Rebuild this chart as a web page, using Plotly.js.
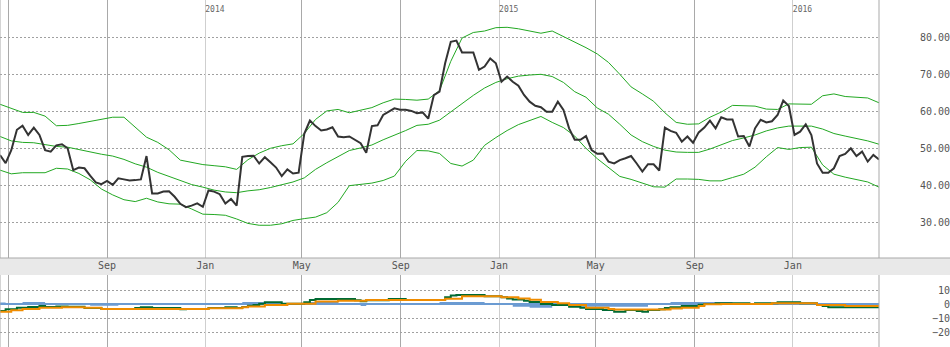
<!DOCTYPE html>
<html><head><meta charset="utf-8">
<script src="https://cdn.plot.ly/plotly-3.0.1.min.js"></script>
<style>html,body{margin:0;padding:0;background:#fff}#chart{width:950px;height:347px}</style>
</head><body><div id="chart"></div>
<script>
const weeks = [
'2013-04-21','2013-04-28','2013-05-05','2013-05-12','2013-05-19','2013-05-26','2013-06-02','2013-06-09','2013-06-16','2013-06-23',
'2013-06-30','2013-07-07','2013-07-14','2013-07-21','2013-07-28','2013-08-04','2013-08-11','2013-08-18','2013-08-25','2013-09-01',
'2013-09-08','2013-09-15','2013-09-22','2013-09-29','2013-10-06','2013-10-13','2013-10-20','2013-10-27','2013-11-03','2013-11-10',
'2013-11-17','2013-11-24','2013-12-01','2013-12-08','2013-12-15','2013-12-22','2013-12-29','2014-01-05','2014-01-12','2014-01-19',
'2014-01-26','2014-02-02','2014-02-09','2014-02-16','2014-02-23','2014-03-02','2014-03-09','2014-03-16','2014-03-23','2014-03-30',
'2014-04-06','2014-04-13','2014-04-20','2014-04-27','2014-05-04','2014-05-11','2014-05-18','2014-05-25','2014-06-01','2014-06-08',
'2014-06-15','2014-06-22','2014-06-29','2014-07-06','2014-07-13','2014-07-20','2014-07-27','2014-08-03','2014-08-10','2014-08-17',
'2014-08-24','2014-08-31','2014-09-07','2014-09-14','2014-09-21','2014-09-28','2014-10-05','2014-10-12','2014-10-19','2014-10-26',
'2014-11-02','2014-11-09','2014-11-16','2014-11-23','2014-11-30','2014-12-07','2014-12-14','2014-12-21','2014-12-28','2015-01-04',
'2015-01-11','2015-01-18','2015-01-25','2015-02-01','2015-02-08','2015-02-15','2015-02-22','2015-03-01','2015-03-08','2015-03-15',
'2015-03-22','2015-03-29','2015-04-05','2015-04-12','2015-04-19','2015-04-26','2015-05-03','2015-05-10','2015-05-17','2015-05-24',
'2015-05-31','2015-06-07','2015-06-14','2015-06-21','2015-06-28','2015-07-05','2015-07-12','2015-07-19','2015-07-26','2015-08-02',
'2015-08-09','2015-08-16','2015-08-23','2015-08-30','2015-09-06','2015-09-13','2015-09-20','2015-09-27','2015-10-04','2015-10-11',
'2015-10-18','2015-10-25','2015-11-01','2015-11-08','2015-11-15','2015-11-22','2015-11-29','2015-12-06','2015-12-13','2015-12-20',
'2015-12-27','2016-01-03','2016-01-10','2016-01-17','2016-01-24','2016-01-31','2016-02-07','2016-02-14','2016-02-21','2016-02-28',
'2016-03-06','2016-03-13','2016-03-20','2016-03-27','2016-04-03','2016-04-10','2016-04-17'];

const price = [
48.2,46.0,49.5,55.0,56.1,53.6,55.6,53.6,49.5,49.1,
50.8,51.1,50.0,44.1,44.8,44.6,42.6,40.8,40.3,41.2,
40.1,41.9,41.6,41.3,41.4,41.6,47.9,37.8,37.8,38.3,
38.4,36.9,35.0,34.1,34.5,35.1,34.2,38.6,38.3,37.6,
35.1,36.3,34.5,47.7,47.9,48.0,45.9,47.6,46.2,44.8,
42.5,44.3,43.2,43.4,53.9,57.5,56.0,54.8,55.1,55.7,
53.2,53.0,53.2,52.4,51.4,48.8,56.0,56.2,59.0,59.9,
60.8,60.4,60.4,60.1,59.5,59.7,58.0,64.4,65.3,73.0,
78.8,79.1,75.9,75.9,75.9,71.2,72.1,74.3,73.0,68.0,
69.4,68.0,66.9,64.4,62.6,61.5,61.1,59.9,59.9,62.6,
60.4,55.4,52.3,52.3,53.3,49.5,48.5,48.6,46.4,45.9,
46.8,47.3,47.9,45.9,43.7,45.7,45.7,44.0,55.6,54.7,
54.2,51.8,53.2,51.5,54.3,55.6,57.5,55.4,58.4,57.8,
57.8,53.2,53.3,50.5,55.4,57.7,57.0,57.3,59.0,62.9,
61.4,53.6,54.5,56.5,53.6,45.9,43.4,43.4,44.6,47.9,
48.5,50.0,47.9,49.1,46.4,48.2,47.0];

// bands are read at every second week
const bandDates = weeks.filter((d, i) => i % 2 === 0);
const bandUpper = [
61.9,60.7,59.7,59.7,58.7,56.1,56.2,56.7,57.3,57.9,
58.4,58.4,55.6,53.0,51.6,49.6,46.8,46.1,45.6,45.3,
45.0,44.3,46.9,48.7,50.0,50.7,51.2,54.0,57.8,60.1,
60.5,59.6,60.2,61.0,62.3,63.3,63.2,63.0,63.3,65.6,
73.5,79.8,81.3,81.7,82.6,82.7,82.3,81.7,81.1,81.7,
80.2,78.9,77.2,75.5,73.2,70.0,66.6,64.7,62.7,59.6,
57.0,56.5,56.6,58.4,59.8,61.6,61.6,61.4,60.6,60.5,
62.0,62.0,61.9,64.2,64.7,64.0,63.8,63.6,62.3];
const bandMiddle = [
53.2,52.0,51.6,51.5,51.0,50.5,50.3,49.6,49.0,48.4,
47.9,47.0,45.8,44.9,43.5,42.4,41.4,40.2,39.5,38.7,
38.2,38.0,38.5,38.8,39.4,40.1,40.9,42.0,44.3,46.1,
47.7,49.4,50.1,50.9,52.3,53.5,54.8,56.2,56.5,57.6,
59.8,62.2,64.3,66.3,67.8,68.8,69.5,69.8,70.0,69.4,
67.8,65.3,63.8,60.9,59.2,56.5,53.6,51.8,50.5,49.5,
49.0,48.9,48.9,49.8,50.9,52.1,52.8,53.6,54.7,55.5,
56.0,56.0,56.0,55.2,54.0,53.3,52.7,52.0,51.1];
const bandLower = [
44.1,43.1,43.4,43.4,43.4,44.6,44.4,43.2,41.5,39.0,
37.4,36.1,35.6,36.5,35.5,35.0,34.9,33.6,32.2,32.1,
31.9,30.9,29.7,29.2,29.2,29.6,30.5,31.0,31.4,32.6,
35.4,39.9,40.3,40.6,41.3,42.5,46.5,49.4,49.3,48.6,
45.9,45.2,46.8,50.8,52.9,54.8,56.4,57.5,58.6,57.0,
55.6,53.3,50.0,47.2,44.9,42.4,41.6,40.6,39.6,39.5,
41.7,41.7,41.6,41.2,41.2,42.1,43.0,44.9,47.7,50.2,
49.7,50.2,50.3,45.5,43.0,42.2,41.5,40.9,39.5];

// lower panel (step values, each holds until the next date)
const macdDates = ['2013-04-21','2013-04-28','2013-05-12','2013-05-26','2013-06-09','2013-06-16','2013-06-30','2013-07-14','2013-08-04','2013-08-25',
'2013-10-06','2013-10-13','2013-10-27','2013-12-01','2013-12-08','2014-01-05','2014-01-26','2014-02-09','2014-02-16','2014-02-23',
'2014-03-02','2014-03-09','2014-03-16','2014-04-06','2014-05-04','2014-05-11','2014-05-18','2014-07-06','2014-07-13','2014-07-20',
'2014-08-17','2014-09-07','2014-10-26','2014-11-02','2014-11-09','2014-12-14','2015-01-04','2015-01-11','2015-01-18','2015-02-01',
'2015-02-08','2015-02-22','2015-03-08','2015-03-29','2015-04-12','2015-04-19','2015-05-10','2015-05-24','2015-06-07','2015-06-21',
'2015-06-28','2015-07-05','2015-07-19','2015-07-26','2015-08-02','2015-08-16','2015-09-06','2015-09-13','2015-09-27','2015-11-08',
'2015-11-15','2015-12-13','2016-01-10','2016-01-31','2016-02-07','2016-02-14','2016-04-17'];
const macd = [-5.0,-3.8,-2.6,-2.1,-1.4,-2.1,-1.7,-1.9,-2.9,-3.6,
-2.9,-2.4,-2.9,-3.8,-3.6,-2.9,-2.4,-2.9,-2.1,-1.2,
-0.7,0.2,1.2,0.2,1.2,2.9,3.6,2.6,1.9,2.6,
3.6,2.9,4.8,6.0,6.4,5.5,4.8,4.0,3.3,2.4,
1.4,0.0,-0.7,-1.9,-2.6,-3.6,-4.3,-5.5,-4.3,-5.0,
-5.5,-4.3,-3.8,-2.9,-2.4,-1.4,-0.5,0.0,0.5,0.0,
0.5,1.2,0.5,-0.7,-1.4,-2.4,-2.4];

const signalDates = ['2013-04-21','2013-05-05','2013-05-19','2013-06-09','2013-07-07','2013-08-04','2013-08-25','2014-01-05','2014-02-16','2014-02-23',
'2014-03-16','2014-04-13','2014-05-18','2014-06-15','2014-07-20','2014-10-26','2014-11-16','2015-01-04','2015-01-25','2015-02-08',
'2015-02-22','2015-03-15','2015-03-29','2015-04-19','2015-05-17','2015-05-24','2015-08-02','2015-08-16','2015-09-06','2015-09-13',
'2015-10-04','2015-12-06','2016-01-31','2016-03-06','2016-04-17'];
const signal = [-5.5,-4.5,-3.6,-2.6,-2.4,-2.6,-3.6,-3.1,-2.4,-1.7,
-0.7,0.2,1.7,2.4,2.9,3.8,5.5,4.8,4.0,3.1,
1.4,0.5,-0.7,-2.6,-3.6,-4.0,-3.3,-2.6,-1.4,-0.2,
0.0,0.5,-0.7,-1.4,-1.4];

const histDates = ['2013-04-21','2013-04-28','2013-05-19','2013-06-16','2013-07-14','2013-08-11','2013-09-15','2013-10-13','2013-10-27','2014-01-12',
'2014-02-09','2014-02-16','2014-03-16','2014-04-13','2014-05-04','2014-06-15','2014-07-06','2014-07-13','2014-07-20','2014-08-17',
'2014-09-07','2014-10-19','2014-12-14','2015-01-04','2015-01-18','2015-02-08','2015-03-08','2015-03-29','2015-07-05','2015-08-02',
'2015-10-18','2015-12-06','2016-01-31','2016-03-20','2016-03-27','2016-04-10','2016-04-17'];
const hist = [1.0,0,1.4,0.7,0,-1.2,0,0.7,0,0.7,
0,1.4,0.7,0,1.4,0.7,0,-1.4,0,0.7,
0,1.4,-0.7,0,-1.9,-2.6,-1.4,-1.9,0,1.4,
0.5,0.7,-1.4,-0.7,-1.4,0,0];

const gridTicks = ['2013-05-01','2013-09-01','2014-01-01','2014-05-01','2014-09-01','2015-01-01','2015-05-01','2015-09-01','2016-01-01'];
const gridText = ['','Sep','Jan','May','Sep','Jan','May','Sep','Jan'];
const yearTicks = ['2014-01-01','2015-01-01','2016-01-01'];
const yearText = ['2014','2015','2016'];
const priceTicks = [30,40,50,60,70,80];
const oscTicks = [-20,-10,0,10];

const xRange = ['2013-04-21','2016-04-17'];
const GREEN = '#22a822';
const mono = 'DejaVu Sans Mono, monospace';
const xDomain = [0, 879/950];

const traces = [
  {x: bandDates, y: bandUpper, type:'scatter', mode:'lines', line:{color:GREEN, width:1}, xaxis:'x', yaxis:'y'},
  {x: bandDates, y: bandMiddle, type:'scatter', mode:'lines', line:{color:GREEN, width:1}, xaxis:'x', yaxis:'y'},
  {x: bandDates, y: bandLower, type:'scatter', mode:'lines', line:{color:GREEN, width:1}, xaxis:'x', yaxis:'y'},
  {x: weeks, y: price, type:'scatter', mode:'lines', line:{color:'#333333', width:2}, xaxis:'x', yaxis:'y'},
  {x: histDates, y: hist, type:'scatter', mode:'lines', line:{color:'#6b9bd2', width:0, shape:'hv'}, fill:'tozeroy', fillcolor:'#6b9bd2', xaxis:'x2', yaxis:'y2'},
  {x: macdDates, y: macd, type:'scatter', mode:'lines', line:{color:'#006a33', width:2, shape:'hv'}, xaxis:'x2', yaxis:'y2'},
  {x: signalDates, y: signal, type:'scatter', mode:'lines', line:{color:'#f08c00', width:2, shape:'hv'}, xaxis:'x2', yaxis:'y2'},
  {x: [yearTicks[0]], y: [null], type:'scatter', mode:'lines', xaxis:'x3', yaxis:'y', hoverinfo:'skip'},
  {x: [yearTicks[0]], y: [null], type:'scatter', mode:'lines', xaxis:'x4', yaxis:'y2', hoverinfo:'skip'}
];

const baseX = {
  type:'date', range: xRange, domain: xDomain, tickmode:'array',
  showgrid:true, gridcolor:'#a9a9a9', gridwidth:1, zeroline:false, ticks:'', fixedrange:true
};

const layout = {
  width:950, height:347, showlegend:false,
  margin:{l:0, r:0, t:0, b:0, pad:0},
  paper_bgcolor:'#ffffff', plot_bgcolor:'#ffffff',
  xaxis: Object.assign({}, baseX, {anchor:'y', tickvals: gridTicks, ticktext: gridText,
    tickfont:{family:mono, size:10, color:'#555'}, showline:false}),
  xaxis2: Object.assign({}, baseX, {anchor:'y2', tickvals: gridTicks, showticklabels:false}),
  xaxis3: Object.assign({}, baseX, {anchor:'y', overlaying:'x', side:'top', tickvals: yearTicks, ticktext: yearText,
    gridcolor:'#cfcfcf', ticklabelposition:'inside right', tickfont:{family:mono, size:8, color:'#666'}}),
  xaxis4: Object.assign({}, baseX, {anchor:'y2', overlaying:'x2', tickvals: yearTicks, showticklabels:false, gridcolor:'#cfcfcf'}),
  yaxis: {domain:[89/347, 1], range:[20.35, 90.08], anchor:'free', position:1, side:'left',
    tickmode:'array', tickvals: priceTicks, tickformat:'.2f', ticks:'',
    tickfont:{family:mono, size:10, color:'#555'},
    showgrid:true, gridcolor:'#a0a0a0', griddash:'2px,2px', zeroline:false, showline:false, fixedrange:true},
  yaxis2: {domain:[0, 72/347], range:[-30.71, 20.71], anchor:'free', position:1, side:'left',
    tickmode:'array', tickvals: oscTicks, ticks:'',
    tickfont:{family:mono, size:10, color:'#555'},
    showgrid:true, gridcolor:'#a0a0a0', griddash:'2px,2px',
    zeroline:true, zerolinecolor:'#6b9bd2', zerolinewidth:1.5, showline:false, fixedrange:true},
  shapes: [
    {type:'rect', xref:'paper', yref:'paper', x0:0, x1:1, y0:72/347, y1:89/347, fillcolor:'#e9e9e9', line:{width:0}, layer:'below'},
    {type:'line', xref:'paper', yref:'paper', x0:0, x1:1, y0:89/347, y1:89/347, line:{color:'#a9a9a9', width:1}},
    {type:'line', xref:'x domain', yref:'y domain', x0:0, x1:0, y0:0, y1:1, line:{color:'#a9a9a9', width:1}},
    {type:'line', xref:'x domain', yref:'y domain', x0:1, x1:1, y0:0, y1:1, line:{color:'#a9a9a9', width:1}},
    {type:'line', xref:'x2 domain', yref:'y2 domain', x0:0, x1:0, y0:0, y1:1, line:{color:'#a9a9a9', width:1}},
    {type:'line', xref:'x2 domain', yref:'y2 domain', x0:1, x1:1, y0:0, y1:1, line:{color:'#a9a9a9', width:1}}
  ]
};

Plotly.newPlot('chart', traces, layout, {displayModeBar:false, staticPlot:true});
</script></body></html>
